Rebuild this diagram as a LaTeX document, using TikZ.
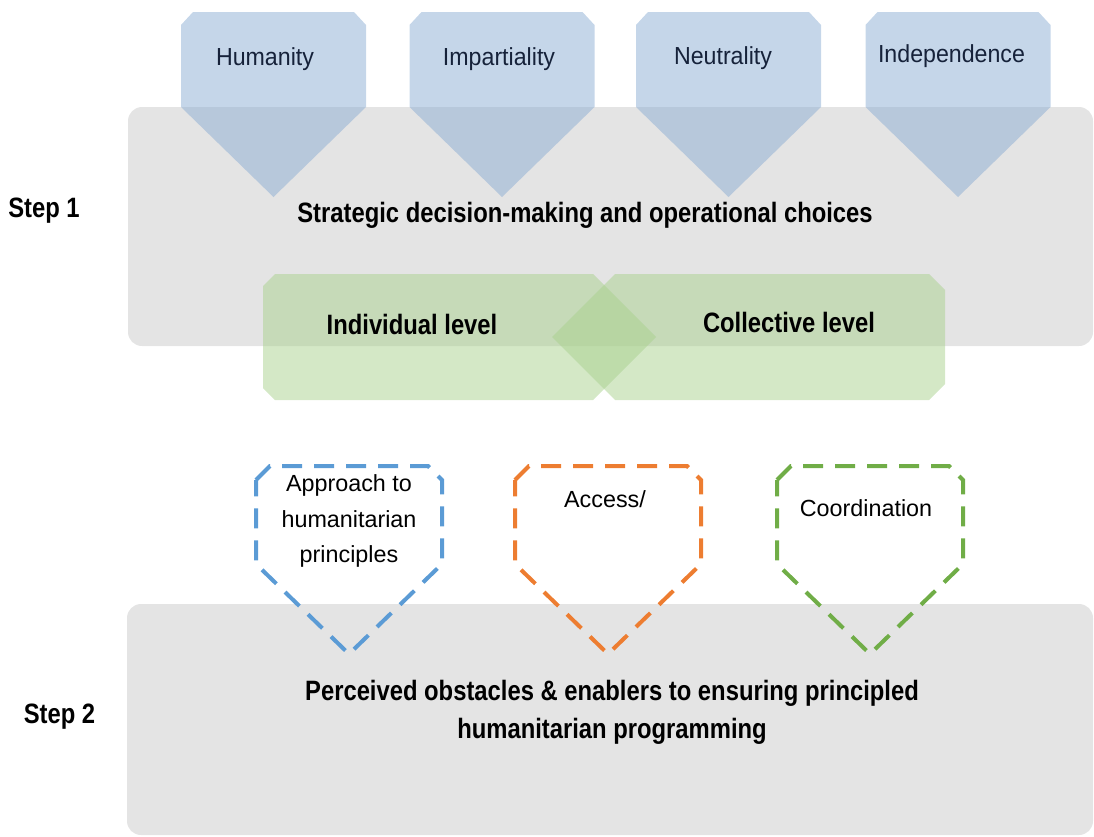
\documentclass[tikz,border=0pt]{standalone}
\usepackage{fontspec}
\setmainfont{Liberation Sans}
\newfontfamily\narrowsans{Liberation Sans}[FakeStretch=0.85]
\newfontfamily\prinsans{Liberation Sans}[FakeStretch=0.94]
\definecolor{boxgray}{RGB}{228,228,228}
\definecolor{prinblue}{RGB}{139,173,211}
\definecolor{levelgreen}{RGB}{169,209,142}
\definecolor{inkblue}{RGB}{22,34,58}
\definecolor{dashblue}{RGB}{91,155,213}
\definecolor{dashorange}{RGB}{237,125,49}
\definecolor{dashgreen}{RGB}{112,173,71}
\begin{document}
\begin{tikzpicture}[x=0.75pt, y=-0.75pt,
          stepbox/.style={fill=boxgray, rounded corners=10.5pt},
          prin/.style={fill=prinblue, fill opacity=0.5},
          level/.style={fill=levelgreen, fill opacity=0.5},
          theme/.style={line width=3pt, dash pattern=on 15pt off 9pt},
          prinlabel/.style={anchor=base, text=inkblue, font=\prinsans\fontsize{18.5}{22}\selectfont},
          boldlabel/.style={font=\narrowsans\bfseries\fontsize{21}{28.5}\selectfont, align=center},
          themelabel/.style={font=\fontsize{17.5}{26.5}\selectfont, align=center}]
        \useasboundingbox (0,0) rectangle (1094,836);
        \fill[stepbox] (128,107) rectangle (1093,346);
        % Principles hang over the top edge of the first step; the transparency darkens the overlap.
        \foreach \c/\tx/\base/\name/\txt in {273.5/265/65/hum/Humanity, 502/499/65/imp/Impartiality,
                                             728.5/723/64/neu/Neutrality, 958/951.5/62/ind/Independence} {
          \fill[prin] ({\c-92.5},25) -- ({\c-80.5},12) -- ({\c+80.5},12) -- ({\c+92.5},25)
            -- ({\c+92.5},107) -- (\c,197) -- ({\c-92.5},107) -- cycle;
          \node[prinlabel] (\name) at (\tx,\base) {\txt};
        }
        \fill[level] (263,286) -- (275,274) -- (593,274) -- (656,337) -- (593,400) -- (275,400) -- (263,388) -- cycle;
        \fill[level] (552,337) -- (615,274) -- (929,274) -- (945,290) -- (945,384) -- (929,400) -- (615,400) -- cycle;
        \fill[stepbox] (127,604) rectangle (1093,835);
        \foreach \c/\col in {349/dashblue, 608/dashorange, 870/dashgreen} {
          \draw[theme, draw=\col] ({\c-93},480) -- ({\c-79},466) -- ({\c+79},466) -- ({\c+93},480)
            -- ({\c+93},564) -- (\c,654) -- ({\c-93},564) -- cycle;
        }
        \node[boldlabel, anchor=base] (step1) at (44,217) {Step 1};
        \node[boldlabel, anchor=base] (step2) at (59.5,723) {Step 2};
        \node[boldlabel, anchor=base] (strat) at (585,222) {Strategic decision-making and operational choices};
        \node[boldlabel, anchor=base] (indiv) at (412,334) {Individual level};
        \node[boldlabel, anchor=base] (collect) at (789,332) {Collective level};
        \node[themelabel] (approach) at (349,521) {Approach to\\humanitarian\\principles};
        \node[themelabel, anchor=base] (access) at (605,507) {Access/};
        \node[themelabel, anchor=base] (coord) at (866,516) {Coordination};
        \node[boldlabel] (percv) at (612,712) {Perceived obstacles \& enablers to ensuring principled\\humanitarian programming};
\end{tikzpicture}
\end{document}
